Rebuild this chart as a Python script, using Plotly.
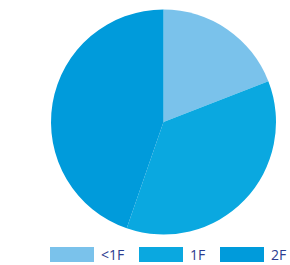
import plotly.graph_objects as go

labels = ["<1F", "1F", "2F"]
values = [19.1, 36.2, 44.7]
colors = ["#7AC2EB", "#0AA8E0", "#009BDB"]

W, H = 290, 265
fig = go.Figure()
fig.add_trace(go.Pie(
    labels=labels, values=values, sort=False, direction="clockwise", rotation=0,
    marker=dict(colors=colors, line=dict(width=0)),
    textinfo="none", hoverinfo="label+percent", showlegend=False,
    domain=dict(x=[51/W, 276/W], y=[(H-234.5)/H, (H-9.5)/H]),
))

# custom legend (wide swatches)
rect_x = [50, 139, 220]
for i, lab in enumerate(labels):
    x0 = rect_x[i]
    fig.add_shape(type="rect", xref="paper", yref="paper",
                  x0=x0/W, x1=(x0+44)/W, y0=(H-262)/H, y1=(H-247)/H,
                  fillcolor=colors[i], line=dict(width=0))
    fig.add_annotation(x=(x0+49)/W, y=(H-254.5)/H, xref="paper", yref="paper",
                       text=lab, showarrow=False, xanchor="left", yanchor="middle",
                       font=dict(family="Open Sans", size=14, color="#2B3C8F"))

fig.update_layout(width=W, height=H, margin=dict(l=0, r=0, t=0, b=0),
                  paper_bgcolor="white", plot_bgcolor="white")
fig.write_html("out.html", config={"displayModeBar": False},
               post_script="document.body.style.margin='0';document.body.style.overflow='hidden';")
